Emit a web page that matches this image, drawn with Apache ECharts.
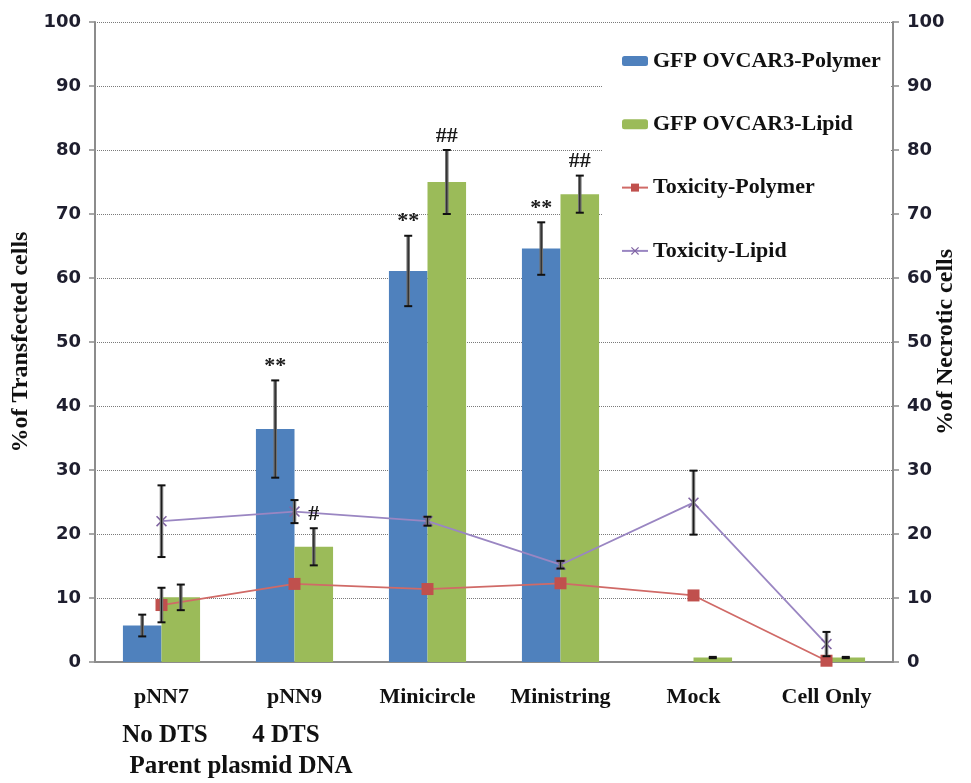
<!DOCTYPE html>
<html><head><meta charset="utf-8">
<script src="https://cdn.jsdelivr.net/npm/echarts@6/dist/echarts.min.js"></script>
<style>html,body{margin:0;padding:0;background:#fff}#c{width:971px;height:783px}</style>
</head><body><div id="c"></div>
<script>
const categories = ['pNN7', 'pNN9', 'Minicircle', 'Ministring', 'Mock', 'Cell Only'];
const gfpPolymer = [5.7, 36.4, 61.1, 64.6, 0, 0];
const gfpPolymerErr = [1.7, 7.6, 5.5, 4.1, 0, 0];
const gfpLipid = [10.1, 18.0, 75.0, 73.1, 0.7, 0.7];
const gfpLipidErr = [2.0, 2.9, 5.0, 2.9, 0.1, 0.1];
const toxPolymer = [8.9, 12.2, 11.4, 12.3, 10.4, 0.2];
const toxPolymerErr = [2.7, 0, 0, 0, 0, 0];
const toxLipid = [22.0, 23.5, 22.0, 15.2, 24.9, 2.8];
const toxLipidErr = [5.6, 1.8, 0.7, 0.6, 5.0, 1.9];
const polymerMarks = ['', '**', '**', '**', '', ''];
const lipidMarks = ['', '#', '##', '##', '', ''];
const subLabels = ['No DTS', '4 DTS'];
const groupLabel = 'Parent plasmid DNA';
const leftName = '%of Transfected cells';
const rightName = '%of Necrotic cells';

const serif = '"Liberation Serif", "Times New Roman", serif';
const GAP = 0.42;
const chart = echarts.init(document.getElementById('c'));

function errorBars(name, vals, errs, side, axisIdx, marks) {
  return {
    type: 'custom', name: name, yAxisIndex: axisIdx, z: 6, silent: true,
    data: vals.map((v, i) => [i, v, errs[i]]),
    renderItem(params, api) {
      const i = api.value(0), v = api.value(1), e = api.value(2);
      const bw = api.size([1, 0])[0];
      const barW = bw * (1 - GAP) / 2;
      const x = api.coord([i, v])[0] + side * barW / 2;
      const yT = api.coord([i, v + e])[1], yB = api.coord([i, Math.max(0, v - e)])[1];
      const ch = [];
      if (e > 0) {
        ch.push({type: 'line', shape: {x1: x, y1: yT, x2: x, y2: yB}, style: {stroke: '#707070', lineWidth: 3.5}});
        ch.push({type: 'line', shape: {x1: x, y1: yT, x2: x, y2: yB}, style: {stroke: '#1c1c1c', lineWidth: 1}});
        ch.push({type: 'line', shape: {x1: x - 4, y1: yT, x2: x + 4, y2: yT}, style: {stroke: '#111', lineWidth: 2}});
        ch.push({type: 'line', shape: {x1: x - 4, y1: yB, x2: x + 4, y2: yB}, style: {stroke: '#111', lineWidth: 2}});
      }
      const m = marks && marks[params.dataIndex];
      if (m) {
        ch.push({type: 'text', x: x, y: yT - 3, style: {text: m, font: 'bold 22px ' + serif, fill: '#1a1a1a', align: 'center', verticalAlign: 'bottom'}});
      }
      return {type: 'group', children: ch};
    }
  };
}

const axisLineStyle = {color: '#8c8c8c', width: 2};
const yLabel = {fontFamily: '"DejaVu Sans", sans-serif', fontWeight: 'bold', fontSize: 18, color: '#1e1e2e', margin: 14};
const nameStyle = {fontFamily: serif, fontWeight: 'bold', fontSize: 24, color: '#111', align: 'center', verticalAlign: 'middle'};

chart.setOption({
  animation: false,
  backgroundColor: '#fff',
  grid: {left: 95, right: 78, top: 22, bottom: 121, containLabel: false, outerBoundsMode: 'none'},
  legend: {
    data: ['GFP OVCAR3-Polymer', 'GFP OVCAR3-Lipid', 'Toxicity-Polymer', 'Toxicity-Lipid'],
    orient: 'vertical', left: 616, top: 45, itemWidth: 26, itemHeight: 10, itemGap: 41.3,
    textStyle: {fontFamily: serif, fontWeight: 'bold', fontSize: 22, color: '#111', lineHeight: 22},
    z: 8
  },
  graphic: [
    {type: 'rect', z: 1, shape: {x: 603, y: 23, width: 287, height: 243}, style: {fill: '#fff'}},
    {type: 'text', z: 10, x: 165, y: 736, style: {text: subLabels[0], font: 'bold 25px ' + serif, fill: '#111', align: 'center', verticalAlign: 'middle'}},
    {type: 'text', z: 10, x: 286, y: 736, style: {text: subLabels[1], font: 'bold 25px ' + serif, fill: '#111', align: 'center', verticalAlign: 'middle'}},
    {type: 'text', z: 10, x: 241, y: 767, style: {text: groupLabel, font: 'bold 25px ' + serif, fill: '#111', align: 'center', verticalAlign: 'middle'}}
  ],
  xAxis: {
    type: 'category', data: categories,
    axisLine: {lineStyle: axisLineStyle},
    axisTick: {length: 6, lineStyle: {color: '#8c8c8c', width: 1.5}},
    axisLabel: {fontFamily: serif, fontWeight: 'bold', fontSize: 22, color: '#111', margin: 24}
  },
  yAxis: [
    {type: 'value', min: 0, max: 100, interval: 10, name: leftName, nameLocation: 'middle', nameGap: 74, nameRotate: 90,
     nameMoveOverlap: false,
     nameTextStyle: nameStyle,
     axisLine: {show: true, lineStyle: axisLineStyle},
     axisTick: {show: true, length: 6, lineStyle: {color: '#8c8c8c', width: 1.5}},
     axisLabel: yLabel,
     splitLine: {lineStyle: {type: 'dotted', color: '#7a7a7a', width: 1}}},
    {type: 'value', min: 0, max: 100, interval: 10, name: rightName, nameLocation: 'middle', nameGap: 53, nameRotate: 90,
     nameMoveOverlap: false,
     nameTextStyle: nameStyle,
     axisLine: {show: true, lineStyle: axisLineStyle},
     axisTick: {show: true, length: 6, lineStyle: {color: '#8c8c8c', width: 1.5}},
     axisLabel: yLabel,
     splitLine: {show: false}}
  ],
  series: [
    {name: 'GFP OVCAR3-Polymer', type: 'bar', data: gfpPolymer, barGap: '0%', barCategoryGap: (GAP * 100) + '%',
     itemStyle: {color: '#4f81bd'}, z: 2},
    {name: 'GFP OVCAR3-Lipid', type: 'bar', data: gfpLipid,
     itemStyle: {color: '#9bbb59'}, z: 2},
    {name: 'Toxicity-Polymer', type: 'line', yAxisIndex: 1, data: toxPolymer, symbol: 'rect', symbolSize: 12,
     lineStyle: {color: '#d06a67', width: 1.8}, itemStyle: {color: '#c0504d'}, z: 4},
    {name: 'Toxicity-Lipid', type: 'line', yAxisIndex: 1, data: toxLipid,
     symbol: 'path://M0,1L1,0L5,4L9,0L10,1L6,5L10,9L9,10L5,6L1,10L0,9L4,5Z', symbolSize: 11,
     lineStyle: {color: '#9a86c2', width: 1.8}, itemStyle: {color: '#8064a2'}, z: 4},
    errorBars('errPolymer', gfpPolymer, gfpPolymerErr, -1, 0, polymerMarks),
    errorBars('errLipid', gfpLipid, gfpLipidErr, 1, 0, lipidMarks),
    errorBars('errToxPolymer', toxPolymer, toxPolymerErr, 0, 1, null),
    errorBars('errToxLipid', toxLipid, toxLipidErr, 0, 1, null)
  ]
});
</script>
</body></html>
